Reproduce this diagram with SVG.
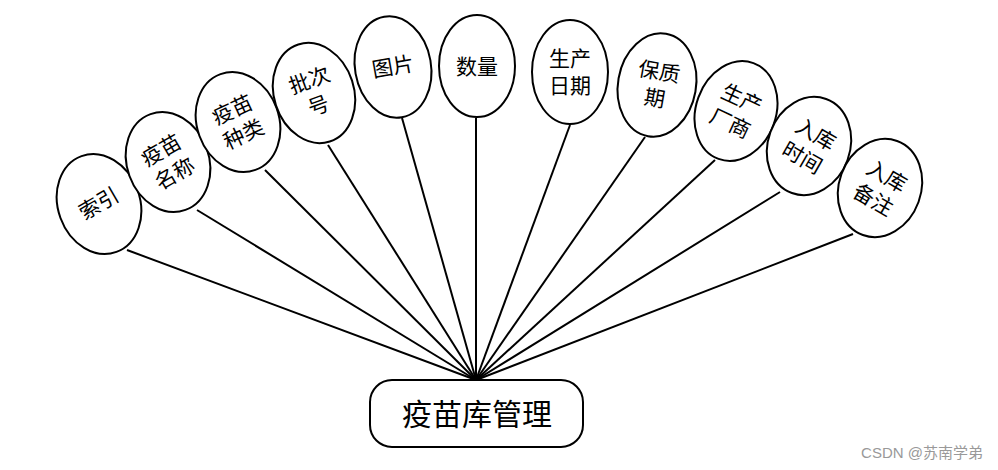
<svg xmlns="http://www.w3.org/2000/svg" width="998" height="470" viewBox="0 0 998 470">
<style>
.e{fill:#fff;stroke:#000;stroke-width:2}
.t{font-family:"Liberation Serif","Noto Sans CJK SC",serif;font-size:21px;text-anchor:middle;fill:#000}
.c{stroke:#000;stroke-width:2;fill:none}
</style>
<rect width="998" height="470" fill="#fff"/>
<g id="connectors">
<line class="c" x1="127" y1="250" x2="476" y2="380"/>
<line class="c" x1="197" y1="210" x2="476" y2="380"/>
<line class="c" x1="265" y1="170" x2="476" y2="380"/>
<line class="c" x1="328" y1="145" x2="476" y2="380"/>
<line class="c" x1="402" y1="118" x2="476" y2="380"/>
<line class="c" x1="476" y1="118" x2="476" y2="380"/>
<line class="c" x1="570" y1="125" x2="476" y2="380"/>
<line class="c" x1="645" y1="137" x2="476" y2="380"/>
<line class="c" x1="715" y1="160" x2="476" y2="380"/>
<line class="c" x1="780" y1="192" x2="476" y2="380"/>
<line class="c" x1="853" y1="234" x2="476" y2="380"/>
</g>
<g id="n1" transform="translate(99,204)"><ellipse class="e" rx="41" ry="51" transform="rotate(-20)"/><text class="t" transform="rotate(-30)" y="7">索引</text></g>
<g id="n2" transform="translate(168,162)"><ellipse class="e" rx="41" ry="51" transform="rotate(-20)"/><g transform="rotate(-30)"><text class="t" y="-6">疫苗</text><text class="t" y="21">名称</text></g></g>
<g id="n3" transform="translate(238,122)"><ellipse class="e" rx="41" ry="51" transform="rotate(-20)"/><g transform="rotate(-25)"><text class="t" y="-6">疫苗</text><text class="t" y="21">种类</text></g></g>
<g id="n4" transform="translate(314,93)"><ellipse class="e" rx="40" ry="51" transform="rotate(-18)"/><g transform="rotate(-20)"><text class="t" y="-6">批次</text><text class="t" y="21">号</text></g></g>
<g id="n5" transform="translate(393,67)"><ellipse class="e" rx="38" ry="51" transform="rotate(-10)"/><text class="t" transform="rotate(-10)" y="7">图片</text></g>
<g id="n6" transform="translate(477,66)"><ellipse class="e" rx="38" ry="51"/><text class="t" y="8">数量</text></g>
<g id="n7" transform="translate(570,72)"><ellipse class="e" rx="38" ry="52"/><text class="t" y="-6">生产</text><text class="t" y="21">日期</text></g>
<g id="n8" transform="translate(657,85)"><ellipse class="e" rx="39" ry="52" transform="rotate(10)"/><g transform="rotate(10)"><text class="t" y="-6">保质</text><text class="t" y="21">期</text></g></g>
<g id="n9" transform="translate(736,111)"><ellipse class="e" rx="40" ry="51" transform="rotate(20)"/><g transform="rotate(25)"><text class="t" y="-6">生产</text><text class="t" y="21">厂商</text></g></g>
<g id="n10" transform="translate(809,146)"><ellipse class="e" rx="41" ry="50" transform="rotate(20)"/><g transform="rotate(30)"><text class="t" y="-6">入库</text><text class="t" y="21">时间</text></g></g>
<g id="n11" transform="translate(880,188)"><ellipse class="e" rx="41" ry="50" transform="rotate(20)"/><g transform="rotate(30)"><text class="t" y="-6">入库</text><text class="t" y="21">备注</text></g></g>
<g id="main"><rect x="370" y="380" width="213" height="67" rx="22" fill="#fff" stroke="#000" stroke-width="2"/><text x="477" y="425" font-family="Liberation Serif,'Noto Sans CJK SC',serif" font-size="30" text-anchor="middle">疫苗库管理</text></g>
<text x="983" y="458" font-family="'Liberation Sans','Noto Sans CJK SC',sans-serif" font-size="15" fill="#999" text-anchor="end">CSDN @苏南学弟</text>
</svg>
